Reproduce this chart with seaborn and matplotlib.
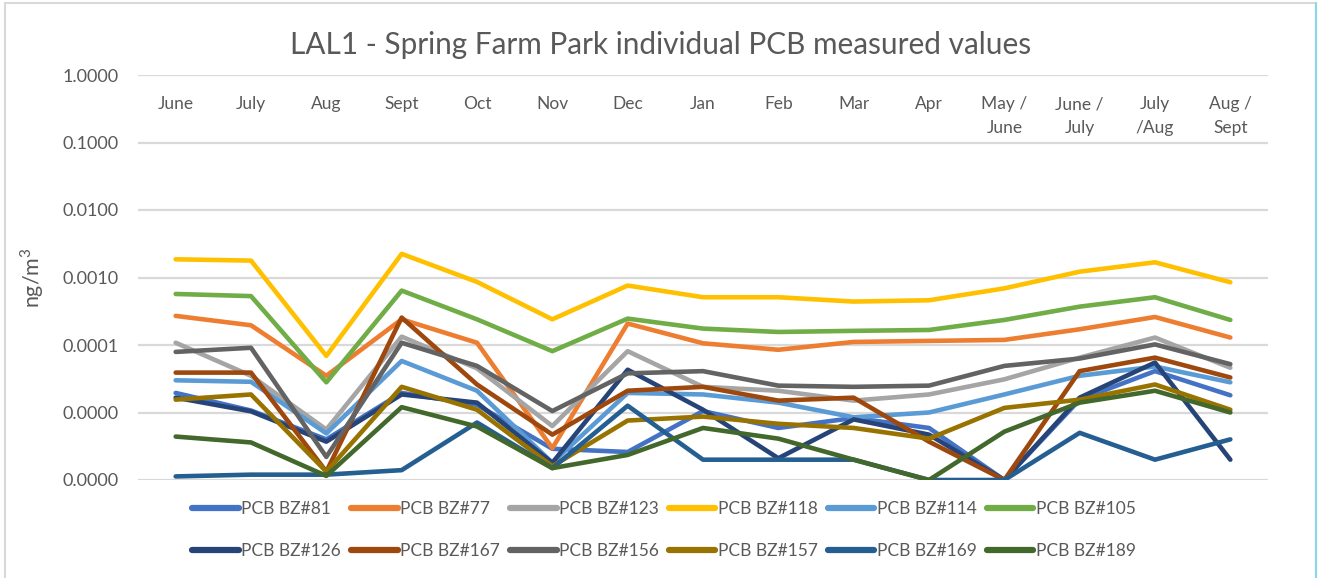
import numpy as np
import pandas as pd
import matplotlib
matplotlib.use("Agg")
import matplotlib.pyplot as plt
import matplotlib.transforms as mtransforms
from matplotlib.lines import Line2D
from matplotlib.patches import Rectangle
from matplotlib.ticker import FixedLocator, FuncFormatter, NullLocator
import seaborn as sns

# Sampling periods (two-line labels for the combined months)
periods = ["June", "July", "Aug", "Sept", "Oct", "Nov", "Dec", "Jan", "Feb",
           "Mar", "Apr", "May /\nJune", "June /\nJuly", "July\n/Aug", "Aug /\nSept"]

# Measured concentrations, ng/m3
pcb_81 = [1.95e-5, 1.07e-5, 4.0e-6, 1.95e-5, 1.3e-5, 2.9e-6, 2.6e-6, 1.05e-5,
          5.9e-6, 8.3e-6, 5.9e-6, 1.0e-6, 1.55e-5, 4.1e-5, 1.8e-5]
pcb_77 = [2.7e-4, 1.96e-4, 3.5e-5, 2.4e-4, 1.08e-4, 2.96e-6, 2.08e-4, 1.06e-4,
          8.5e-5, 1.11e-4, 1.15e-4, 1.19e-4, 1.71e-4, 2.6e-4, 1.29e-4]
pcb_123 = [1.08e-4, 3.5e-5, 5.6e-6, 1.33e-4, 4.5e-5, 6.3e-6, 8.1e-5, 2.4e-5,
           2.1e-5, 1.5e-5, 1.85e-5, 3.1e-5, 6.5e-5, 1.29e-4, 4.6e-5]
pcb_118 = [1.86e-3, 1.78e-3, 6.9e-5, 2.24e-3, 8.6e-4, 2.4e-4, 7.6e-4, 5.1e-4,
           5.1e-4, 4.4e-4, 4.6e-4, 6.9e-4, 1.22e-3, 1.68e-3, 8.5e-4]
pcb_114 = [3.0e-5, 2.85e-5, 4.9e-6, 5.8e-5, 2.1e-5, 1.8e-6, 1.95e-5, 1.85e-5,
           1.4e-5, 8.5e-6, 1.0e-5, 1.85e-5, 3.5e-5, 4.8e-5, 2.8e-5]
pcb_105 = [5.7e-4, 5.3e-4, 2.8e-5, 6.4e-4, 2.4e-4, 8.1e-5, 2.46e-4, 1.75e-4,
           1.56e-4, 1.62e-4, 1.67e-4, 2.35e-4, 3.7e-4, 5.1e-4, 2.35e-4]
pcb_126 = [1.66e-5, 1.04e-5, 3.7e-6, 1.85e-5, 1.4e-5, 1.8e-6, 4.3e-5, 1.1e-5,
           2.1e-6, 7.9e-6, 4.7e-6, 1.0e-6, 1.66e-5, 5.5e-5, 2.0e-6]
pcb_167 = [3.9e-5, 3.9e-5, 1.33e-6, 2.55e-4, 2.6e-5, 4.7e-6, 2.1e-5, 2.4e-5,
           1.5e-5, 1.66e-5, 3.7e-6, 1.0e-6, 4.1e-5, 6.5e-5, 3.3e-5]
pcb_156 = [7.9e-5, 9.1e-5, 2.2e-6, 1.08e-4, 4.9e-5, 1.05e-5, 3.8e-5, 4.1e-5,
           2.5e-5, 2.4e-5, 2.5e-5, 4.9e-5, 6.3e-5, 1.02e-4, 5.2e-5]
pcb_157 = [1.55e-5, 1.85e-5, 1.33e-6, 2.4e-5, 1.1e-5, 1.6e-6, 7.6e-6, 8.7e-6,
           6.8e-6, 5.9e-6, 4.1e-6, 1.17e-5, 1.55e-5, 2.6e-5, 1.1e-5]
pcb_169 = [1.13e-6, 1.2e-6, 1.2e-6, 1.4e-6, 7.1e-6, 1.5e-6, 1.26e-5, 2.0e-6,
           2.0e-6, 2.0e-6, 1.0e-6, 1.0e-6, 5.0e-6, 2.0e-6, 4.0e-6]
pcb_189 = [4.4e-6, 3.6e-6, 1.15e-6, 1.2e-5, 6.2e-6, 1.5e-6, 2.35e-6, 5.9e-6,
           4.1e-6, 2.0e-6, 1.0e-6, 5.2e-6, 1.4e-5, 2.1e-5, 1.0e-5]

series_names = ["PCB BZ#81", "PCB BZ#77", "PCB BZ#123", "PCB BZ#118",
                "PCB BZ#114", "PCB BZ#105", "PCB BZ#126", "PCB BZ#167",
                "PCB BZ#156", "PCB BZ#157", "PCB BZ#169", "PCB BZ#189"]
series_values = [pcb_81, pcb_77, pcb_123, pcb_118, pcb_114, pcb_105,
                 pcb_126, pcb_167, pcb_156, pcb_157, pcb_169, pcb_189]
series_colors = ["#4472C4", "#ED7D31", "#A5A5A5", "#FFC000", "#5B9BD5", "#70AD47",
                 "#264478", "#9E480E", "#636363", "#997300", "#255E91", "#43682B"]

y_ticks = [1e-6, 1e-5, 1e-4, 1e-3, 1e-2, 1e-1, 1.0]

frames = []
for name, vals in zip(series_names, series_values):
    frames.append(pd.DataFrame({"period": np.arange(len(periods)),
                                "value": vals, "compound": name}))
df = pd.concat(frames, ignore_index=True)

sns.set_theme(style="white")
FONT = ["Lato", "DejaVu Sans"]
plt.rcParams["font.family"] = FONT
plt.rcParams["mathtext.fontset"] = "custom"
plt.rcParams["mathtext.rm"] = "Lato"
TXT = "#595959"
GRID = "#D9D9D9"

W, H = 1320, 578
fig = plt.figure(figsize=(W / 100, H / 100), dpi=100)
fig.patch.set_facecolor("white")

# chart frame
fig.patches.append(Rectangle((5 / W, -0.05), (1316 - 5) / W, 1.05 - 3 / H,
                             transform=fig.transFigure, fill=False,
                             edgecolor=GRID, linewidth=1.5, zorder=0))
fig.add_artist(Line2D([1316 / W, 1316 / W], [0, 1 - 3 / H], transform=fig.transFigure,
                      color="#8AD6EA", linewidth=1.5))

left, right, top, bottom = 138, 1268, 75, 480
ax = fig.add_axes([left / W, 1 - bottom / H, (right - left) / W, (bottom - top) / H])

sns.lineplot(data=df, x="period", y="value", hue="compound",
             hue_order=series_names, palette=series_colors,
             linewidth=3.3, sort=False, legend=False, ax=ax)
for ln in ax.get_lines():
    ln.set_solid_capstyle("round")
    ln.set_solid_joinstyle("round")

ax.set_yscale("log")
ax.set_ylim(1e-6, 1.0)
ax.set_xlim(-0.5, len(periods) - 0.5)
ax.yaxis.set_major_locator(FixedLocator(y_ticks))
ax.yaxis.set_minor_locator(NullLocator())
ax.yaxis.set_major_formatter(FuncFormatter(lambda v, p: f"{v:.4f}"))
ax.set_xticks([])
ax.tick_params(axis="y", length=0, pad=14, labelsize=13, labelcolor=TXT)
for lab in ax.get_yticklabels():
    lab.set_fontfamily(FONT)
ax.grid(axis="y", color=GRID, linewidth=1.6)
ax.set_axisbelow(True)
for sp in ax.spines.values():
    sp.set_visible(False)
ax.set_xlabel("")
ax.set_ylabel("ng/m$^3$", fontsize=15.5, color=TXT, labelpad=12)

# period labels along the top of the plot area
trans = mtransforms.blended_transform_factory(ax.transData, ax.transAxes)
for i, lab in enumerate(periods):
    ax.text(i, 1 - 21 / (bottom - top), lab, transform=trans, ha="center", va="top",
            fontsize=12.5, color=TXT, linespacing=1.6)

fig.text(661 / W, 1 - 45 / H, "LAL1 - Spring Farm Park individual PCB measured values",
         ha="center", va="center", fontsize=21.4, color=TXT)

# legend, row-wise order in two rows of six
handles = [Line2D([], [], color=c, linewidth=4.5, solid_capstyle="round")
           for c in series_colors]
order = []
for col in range(6):
    order += [col, col + 6]
leg = fig.legend([handles[i] for i in order], [series_names[i] for i in order],
                 ncol=6, loc="center", bbox_to_anchor=(664 / W, 1 - 530 / H),
                 frameon=False, fontsize=12.5, handlelength=2.7, handletextpad=0.15,
                 columnspacing=0.55, labelspacing=1.45, labelcolor=TXT)

fig.savefig("out.png", dpi=100, facecolor="white")
